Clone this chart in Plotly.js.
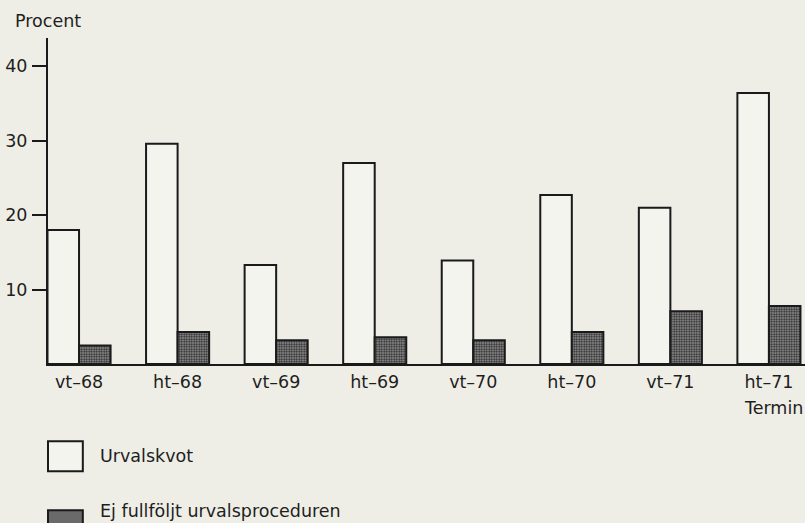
<!DOCTYPE html>
<html>
<head>
<meta charset="utf-8">
<script src="https://cdn.plot.ly/plotly-3.0.1.min.js"></script>
<style>
html,body{margin:0;padding:0;background:#eeeee6;}
#chart{width:805px;height:523px;}
</style>
</head>
<body>
<div id="chart"></div>
<script>
var categories = ["vt–68","ht–68","vt–69","ht–69","vt–70","ht–70","vt–71","ht–71"];
var urvalskvot = [18.0, 29.6, 13.3, 27.0, 13.9, 22.7, 21.0, 36.4];
var ejFullfoljt = [2.5, 4.3, 3.2, 3.6, 3.2, 4.3, 7.1, 7.8];
var yTicks = [10, 20, 30, 40];
var seriesNames = ["Urvalskvot", "Ej fullföljt urvalsproceduren"];

var font = {family: "DejaVu Sans, Arial, sans-serif", size: 17.5, color: "#1e1e1e"};

var traces = [
  {type: "bar", x: categories, y: urvalskvot, name: seriesNames[0],
   marker: {color: "#f4f4ee", line: {color: "#1a1a1a", width: 2}}},
  {type: "bar", x: categories, y: ejFullfoljt, name: seriesNames[1],
   marker: {color: "#6a6a6a", line: {color: "#1a1a1a", width: 2},
            pattern: {shape: ".", size: 2.5, solidity: 0.5, fgcolor: "#2a2a2a", bgcolor: "#9a9a9a"}}}
];

var layout = {
  width: 805, height: 523,
  margin: {l: 48, r: 0, t: 38, b: 158.5},
  paper_bgcolor: "#eeeee6", plot_bgcolor: "#eeeee6",
  barmode: "group", bargap: 0.36, bargroupgap: 0,
  showlegend: false,
  font: font,
  xaxis: {type: "category", range: [-0.315, 7.366], showline: true, linecolor: "#1a1a1a", linewidth: 2,
          ticks: "", showgrid: false, zeroline: false, tickfont: font, ticklabelstandoff: 1},
  yaxis: {range: [0, 43.8], showline: true, linecolor: "#1a1a1a", linewidth: 2,
          tickvals: yTicks, ticktext: yTicks.map(String), ticks: "outside", ticklen: 14, tickwidth: 2, tickcolor: "#1a1a1a",
          ticklabelstandoff: 1, showgrid: false, zeroline: false, tickfont: font},
  shapes: [
    {type: "rect", xref: "paper", yref: "paper", x0: 0, x1: 0.046, y0: -0.237, y1: -0.329,
     line: {color: "#1a1a1a", width: 2}, fillcolor: "#f4f4ee"},
    {type: "rect", xref: "paper", yref: "paper", x0: 0, x1: 0.046, y0: -0.449, y1: -0.56,
     line: {color: "#1a1a1a", width: 2}, fillcolor: "#6a6a6a"}
  ],
  annotations: [
    {text: "Procent", xref: "paper", yref: "paper", x: -0.046, y: 1.052, xanchor: "left", yanchor: "middle", showarrow: false, font: font},
    {text: "Termin", xref: "paper", yref: "paper", x: 1, y: -0.136, xanchor: "right", yanchor: "middle", showarrow: false, font: font},
    {text: seriesNames[0], xref: "paper", yref: "paper", x: 0.066, y: -0.283, xanchor: "left", yanchor: "middle", showarrow: false, font: font},
    {text: seriesNames[1], xref: "paper", yref: "paper", x: 0.066, y: -0.452, xanchor: "left", yanchor: "middle", showarrow: false, font: font}
  ]
};

Plotly.newPlot("chart", traces, layout, {displayModeBar: false, staticPlot: true});
</script>
</body>
</html>
